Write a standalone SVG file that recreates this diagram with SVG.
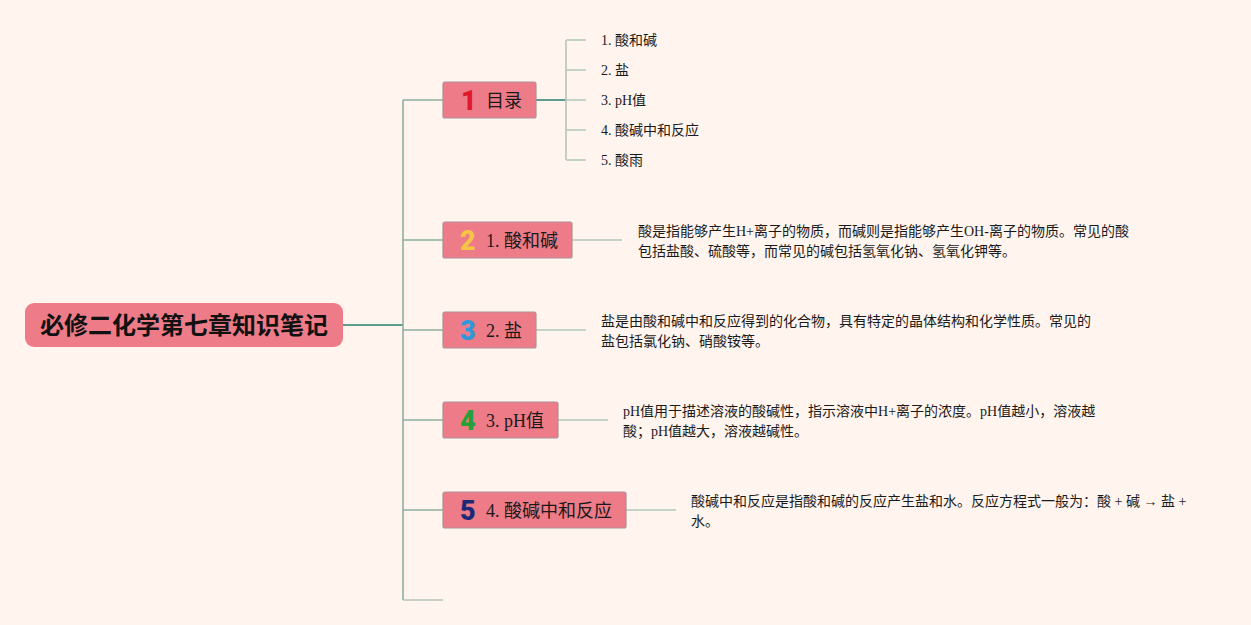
<svg xmlns="http://www.w3.org/2000/svg" width="1251" height="625" viewBox="0 0 1251 625">
<style>
.bg{fill:#FFF4EE}
.root{fill:#EE7B88}
.node{fill:#EE7B88;stroke:#A99295;stroke-width:1.2}
.t{font-family:"Liberation Serif","Noto Sans CJK SC",serif;fill:#1A1A1A}
.title{font-family:"Noto Sans CJK SC","Liberation Sans",sans-serif;font-weight:bold;font-size:24px;fill:#111}
.lbl{font-size:18px}
.leaf{font-size:14px}
.desc{font-size:14px}
.num{font-family:"Roboto","Liberation Sans",sans-serif;font-weight:900;font-size:27px}
.trunk{stroke:#8DB0A0;stroke-width:1.6;fill:none}
.main{stroke:#5E9C8C;stroke-width:2;fill:none}
.thin{stroke:#B3C7B8;stroke-width:1.6;fill:none}
</style>
<rect class="bg" x="0" y="0" width="1251" height="625"/>
<g id="connectors">
<path class="main" d="M343 325 H403"/>
<path class="trunk" d="M403 100 V600 M403 100 H443 M403 240 H443 M403 330 H443 M403 420 H443 M403 510 H443"/>
<path class="thin" d="M403 600 H443"/>
<path class="main" d="M536 100 H566"/>
<path class="thin" d="M566 40 V160 M566 40 H586 M566 70 H586 M566 100 H586 M566 130 H586 M566 160 H586"/>
<path class="thin" d="M572 240 H622 M536 330 H586 M558 420 H608 M626 510 H676"/>
</g>
<g id="root">
<rect class="root" x="25" y="303" width="318" height="44" rx="9"/>
<text class="title" x="184" y="334" text-anchor="middle">必修二化学第七章知识笔记</text>
</g>
<g id="node1">
<rect class="node" x="443" y="82" width="93" height="36" rx="2"/>
<text class="num" x="461" y="110" fill="#E0182C">1</text>
<text class="t lbl" x="486" y="107">目录</text>
</g>
<g id="leaf1"><text class="t leaf" x="601" y="45">1. 酸和碱</text></g>
<g id="leaf2"><text class="t leaf" x="601" y="75">2. 盐</text></g>
<g id="leaf3"><text class="t leaf" x="601" y="105">3. pH值</text></g>
<g id="leaf4"><text class="t leaf" x="601" y="135">4. 酸碱中和反应</text></g>
<g id="leaf5"><text class="t leaf" x="601" y="165">5. 酸雨</text></g>
<g id="node2">
<rect class="node" x="443" y="222" width="129" height="36" rx="2"/>
<text class="num" x="460" y="250" fill="#F5C445">2</text>
<text class="t lbl" x="486" y="247">1. 酸和碱</text>
</g>
<g id="desc2">
<text class="t desc" x="638" y="236">酸是指能够产生H+离子的物质，而碱则是指能够产生OH-离子的物质。常见的酸</text>
<text class="t desc" x="638" y="256">包括盐酸、硫酸等，而常见的碱包括氢氧化钠、氢氧化钾等。</text>
</g>
<g id="node3">
<rect class="node" x="443" y="312" width="93" height="36" rx="2"/>
<text class="num" x="460" y="340" fill="#2E98DA">3</text>
<text class="t lbl" x="486" y="337">2. 盐</text>
</g>
<g id="desc3">
<text class="t desc" x="601" y="326">盐是由酸和碱中和反应得到的化合物，具有特定的晶体结构和化学性质。常见的</text>
<text class="t desc" x="601" y="346">盐包括氯化钠、硝酸铵等。</text>
</g>
<g id="node4">
<rect class="node" x="443" y="402" width="115" height="36" rx="2"/>
<text class="num" x="460" y="430" fill="#27A03A">4</text>
<text class="t lbl" x="486" y="427">3. pH值</text>
</g>
<g id="desc4">
<text class="t desc" x="623" y="416">pH值用于描述溶液的酸碱性，指示溶液中H+离子的浓度。pH值越小，溶液越</text>
<text class="t desc" x="623" y="436">酸；pH值越大，溶液越碱性。</text>
</g>
<g id="node5">
<rect class="node" x="443" y="492" width="183" height="36" rx="2"/>
<text class="num" x="460" y="520" fill="#1D2A78">5</text>
<text class="t lbl" x="486" y="517">4. 酸碱中和反应</text>
</g>
<g id="desc5">
<text class="t desc" x="691" y="506">酸碱中和反应是指酸和碱的反应产生盐和水。反应方程式一般为：酸 + 碱 → 盐 +</text>
<text class="t desc" x="691" y="526">水。</text>
</g>
</svg>
